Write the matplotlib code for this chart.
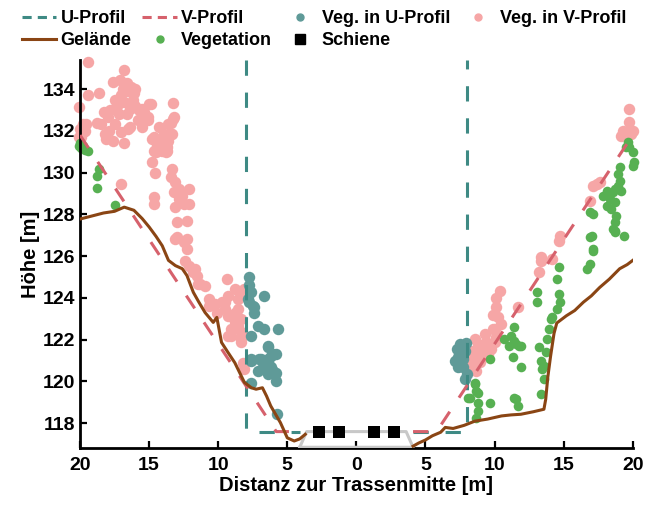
import numpy as np
import matplotlib
matplotlib.use("Agg")
import matplotlib.pyplot as plt
from matplotlib.lines import Line2D

plt.rcParams['font.family'] = ['Liberation Sans', 'DejaVu Sans']
plt.rcParams['font.weight'] = 'bold'
plt.rcParams['font.size'] = 14

# Gelände (Querschnitt)
gel_links_x = [-20, -19, -18.3, -17.5, -16.8, -16.1, -15.5, -15, -14.5, -14.05, -13.6, -13.1,
               -12.6, -12.26, -11.8, -11.4, -10.95, -10.36, -10.1, -9.76, -9.3, -8.8, -8.1,
               -7.6, -7.26, -6.8, -6.5, -6.2, -5.5, -5.0, -4.5, -4.1, -3.7]
gel_links_y = [127.78, 127.95, 128.07, 128.15, 128.35, 128.2, 127.8, 127.4, 126.95, 126.5, 125.8,
               125.55, 125.4, 125.07, 124.27, 123.8, 123.3, 122.83, 123.07, 121.87, 121.4, 120.9,
               119.95, 119.7, 119.63, 119.7, 119.3, 118.83, 118.03, 117.3, 117.15, 117.25, 117.47]
gel_rechts_x = [4.1, 4.5, 5.0, 5.5, 6.1, 6.43, 7.0, 7.8, 8.57, 9.5, 10.5, 11.2, 11.9, 12.8, 13.57,
                13.7, 13.85, 14.05, 14.3, 14.5, 15.2, 15.8, 16.43, 17.0, 17.6, 18.3, 19.05, 19.6, 20.0]
gel_rechts_y = [116.9, 117.05, 117.2, 117.4, 117.57, 117.8, 117.75, 117.9, 118.1, 118.2, 118.35,
                118.4, 118.43, 118.55, 118.67, 119.15, 120.2, 121.2, 122.3, 122.8, 123.15, 123.4,
                123.8, 124.1, 124.5, 124.9, 125.4, 125.6, 125.8]

# Profile
u_x = [-8, -8, -4.1, np.nan, 4.1, 8, 8]
u_y = [135.4, 117.6, 117.6, np.nan, 117.6, 117.6, 135.4]
v_x = [-20, -5.8, -4.1, np.nan, 4.1, 5.8, 20]
v_y = [131.8, 117.6, 117.6, np.nan, 117.6, 117.6, 131.8]

# Schotter und Schienen
schotter_x = [-4.1, -3.6, 3.6, 4.1, -4.1]
schotter_y = [116.85, 117.6, 117.6, 116.85, 116.85]
schiene_x = [-2.72, -1.28, 1.28, 2.72]
schiene_y = [117.58, 117.58, 117.58, 117.58]

# Vegetation im V-Profil
veg_v = [(-19.45, 135.3), (-16.8, 134.93), (-17.6, 134.34), (-17.1, 134.45), (-19.45, 133.7),
         (-18.6, 133.8), (-20.1, 133.17), (-17.5, 133.5), (-17.0, 133.7), (-16.5, 133.9),
         (-16.3, 134.1), (-16.0, 134.0), (-14.9, 133.3), (-13.3, 133.33), (-13.2, 132.66),
         (-13.45, 132.4), (-15.36, 132.9), (-15.7, 133.0), (-15.1, 132.66), (-18.0, 132.66),
         (-18.45, 132.34), (-18.8, 132.4), (-17.5, 132.34), (-17.0, 131.94), (-16.55, 132.1),
         (-18.2, 131.86), (-18.1, 131.62), (-17.6, 131.5), (-16.8, 131.4), (-19.6, 132.34),
         (-19.8, 131.94), (-19.9, 131.7), (-14.64, 131.7), (-14.3, 132.18), (-13.9, 131.86),
         (-13.6, 131.54), (-14.16, 131.3), (-13.7, 131.06), (-13.33, 131.86), (-14.5, 130.98),
         (-14.05, 131.54), (-16.1, 133.8), (-15.5, 133.06), (-15.0, 133.3), (-15.1, 132.5),
         (-16.4, 133.06), (-16.4, 132.2), (-13.3, 132.58), (-13.6, 132.34), (-14.76, 131.62),
         (-14.4, 131.3), (-14.05, 131.62), (-13.7, 131.22), (-13.45, 131.86), (-13.8, 130.98),
         (-14.64, 131.06), (-14.05, 131.06), (-14.76, 130.5), (-14.57, 130.0), (-13.38, 130.18),
         (-13.45, 129.78), (-13.1, 129.54), (-12.86, 129.22), (-13.2, 129.07), (-12.6, 128.9),
         (-12.14, 129.22), (-12.5, 128.5), (-13.1, 128.35), (-12.14, 128.5), (-12.86, 128.74),
         (-14.64, 128.83), (-14.64, 128.5), (-12.98, 127.63), (-12.26, 127.7), (-12.98, 126.9),
         (-12.26, 126.83), (-13.1, 126.83), (-12.5, 126.67), (-12.26, 126.35), (-12.38, 125.78),
         (-12.14, 125.54), (-11.8, 125.23), (-11.55, 125.06), (-11.3, 124.67), (-10.95, 124.58),
         (-9.4, 124.9), (-8.8, 124.43), (-9.3, 124.1), (-8.57, 123.95), (-10.7, 123.95),
         (-10.24, 123.7), (-9.76, 123.79), (-9.52, 123.47), (-10.1, 123.3), (-10.7, 123.63),
         (-9.29, 123.15), (-8.8, 122.83), (-9.05, 122.5), (-8.57, 122.67), (-8.33, 122.99),
         (-9.05, 122.19), (-8.33, 121.87), (-8.8, 123.3), (-8.1, 124.43), (-8.2, 120.9),
         (-8.1, 120.6), (-11.66, 125.39), (-11.43, 124.67), (-9.52, 123.79), (-8.57, 123.47),
         (-9.05, 123.15), (-8.33, 122.35), (-9.29, 122.19), (-8.33, 122.03), (-8.2, 124.27),
         (-17.0, 129.47), (-20.0, 132.1), (-19.64, 132.0), (-20.1, 131.7), (-19.76, 132.34),
         (-17.3, 133.2), (-16.8, 133.4), (-16.2, 133.5), (-16.6, 132.8), (-17.8, 133.0),
         (-17.2, 132.8), (-16.0, 133.2), (-15.8, 132.5), (-17.9, 132.0), (-18.3, 132.9),
         (-15.5, 132.2), (-16.9, 134.0), (-16.6, 134.3),
         (19.76, 133.06), (19.76, 132.42), (19.52, 131.94), (19.29, 132.02), (19.88, 131.86),
         (20.0, 132.02), (19.17, 131.78), (17.38, 129.46), (17.62, 129.54), (17.14, 129.38),
         (16.9, 128.66), (14.64, 126.74), (14.76, 126.98), (13.33, 125.95), (14.17, 125.87),
         (13.33, 125.78), (13.2, 125.23), (10.36, 124.35), (10.12, 123.55), (11.67, 123.55),
         (10.24, 123.07), (10.48, 122.75), (9.88, 122.51), (9.29, 122.27), (9.4, 121.87),
         (8.81, 121.79), (8.57, 122.03), (8.33, 121.23), (8.57, 120.91), (8.21, 120.59),
         (8.69, 120.51), (9.05, 121.07), (9.52, 121.31), (9.76, 121.55), (10.0, 121.87),
         (9.05, 121.63), (10.0, 122.51), (10.12, 122.11), (8.33, 121.47), (8.81, 121.23),
         (8.45, 120.75), (9.29, 121.47), (9.64, 121.79), (8.33, 120.99), (8.93, 120.91),
         (10.12, 124.0), (9.9, 123.2)]

# Vegetation im U-Profil
veg_u = [(-7.74, 124.99), (-7.86, 123.95), (-7.5, 123.63), (-7.38, 123.3), (-6.66, 124.1),
         (-7.14, 122.67), (-6.66, 122.51), (-5.7, 122.51), (-7.62, 121.07), (-7.02, 121.07),
         (-6.43, 121.63), (-6.07, 121.3), (-6.43, 121.07), (-6.79, 120.67), (-6.19, 120.67),
         (-5.84, 120.43), (-6.43, 120.35), (-5.84, 120.03), (-7.62, 119.95), (-5.71, 118.43),
         (-7.74, 123.79), (-7.38, 123.55), (-7.62, 122.19), (-6.43, 121.7), (-6.19, 121.23),
         (-5.84, 121.3), (-6.9, 121.07), (-6.43, 120.91), (-6.07, 120.51), (-7.14, 120.51),
         (-7.62, 120.99), (-7.8, 124.6), (-7.6, 124.3),
         (7.26, 121.55), (7.62, 121.63), (7.86, 121.47), (7.38, 121.15), (7.74, 121.07),
         (7.38, 120.67), (7.74, 120.67), (7.98, 120.35), (7.86, 120.11), (7.14, 120.99),
         (7.5, 121.8), (7.9, 121.85)]

# übrige Vegetation
veg = [(-20.1, 131.26), (-19.9, 131.18), (-19.64, 131.1), (-19.76, 131.26), (-19.4, 131.06),
       (-20.0, 131.4), (-18.6, 130.2), (-18.8, 129.86), (-18.76, 129.26), (-17.5, 128.45),
       (10.71, 122.03), (11.19, 122.19), (11.55, 121.79), (11.9, 121.71), (11.07, 121.71),
       (11.43, 121.95), (11.31, 121.15), (11.9, 120.67), (9.64, 121.07), (8.57, 119.95),
       (8.69, 119.55), (8.21, 119.23), (8.81, 118.99), (9.64, 118.99), (11.43, 119.23),
       (11.67, 118.83), (8.69, 118.27), (13.21, 121.63), (13.33, 120.99), (13.45, 120.59),
       (13.33, 119.39), (13.1, 124.27), (13.1, 123.79), (14.64, 124.19), (14.05, 122.99),
       (13.93, 122.51), (13.81, 122.03), (13.69, 121.39), (13.57, 120.75), (13.57, 120.11),
       (17.02, 126.98), (17.14, 126.35), (16.9, 125.63), (16.67, 125.39), (18.69, 127.22),
       (19.4, 126.98), (14.64, 125.47), (14.52, 124.9), (14.71, 123.79), (14.52, 123.47),
       (14.17, 123.07), (11.43, 122.59), (11.79, 121.71), (11.55, 119.15), (8.57, 119.87),
       (8.81, 119.47), (8.81, 118.59), (8.1, 119.23), (19.76, 131.22), (20.0, 130.98),
       (20.1, 130.5), (20.0, 130.34), (19.52, 131.22), (19.64, 131.46), (19.05, 130.26),
       (18.93, 129.94), (19.05, 129.62), (18.93, 129.38), (18.69, 129.22), (19.17, 129.14),
       (18.57, 129.06), (18.1, 129.14), (18.33, 128.74), (18.69, 128.58), (18.45, 128.26),
       (18.81, 127.94), (18.69, 127.63), (18.57, 127.31), (18.69, 127.15), (17.86, 128.9),
       (18.1, 128.42), (16.9, 128.1), (17.14, 128.02), (16.9, 126.9), (17.14, 126.27)]

x_ticks = [-20, -15, -10, -5, 0, 5, 10, 15, 20]
x_labels = ['20', '15', '10', '5', '0', '5', '10', '15', '20']
y_ticks = [118, 120, 122, 124, 126, 128, 130, 132, 134]

c_u = '#3e8a84'
c_v = '#d6616c'
c_veg_u = '#5f9a98'
c_veg_v = '#f6a6a6'
c_veg = '#57b052'
c_gel = '#8a4514'

fig = plt.figure(figsize=(6.48, 5.11), dpi=100)
ax = fig.add_axes([0.1235, 0.1227, 0.853, 0.76])

vv = np.array(veg_v)
vu = np.array(veg_u)
vg = np.array(veg)
ax.scatter(vv[:, 0], vv[:, 1], s=68, color=c_veg_v, linewidths=0, zorder=2, clip_on=False)
ax.scatter(vu[:, 0], vu[:, 1], s=68, color=c_veg_u, linewidths=0, zorder=2, clip_on=False)
ax.scatter(vg[:, 0], vg[:, 1], s=48, color=c_veg, linewidths=0, zorder=2, clip_on=False)

ax.plot(schotter_x, schotter_y, color='#c8c8c8', lw=2.2, zorder=3)
ax.plot(u_x, u_y, color=c_u, lw=2.2, dashes=(5, 5.5), zorder=4)
ax.plot(v_x, v_y, color=c_v, lw=2.2, dashes=(5, 5.5), zorder=4)
ax.plot(gel_links_x, gel_links_y, color=c_gel, lw=2.2, zorder=5)
ax.plot(gel_rechts_x, gel_rechts_y, color=c_gel, lw=2.2, zorder=5)
ax.scatter(schiene_x, schiene_y, s=75, marker='s', color='black', linewidths=0, zorder=6)

ax.set_xlim(-20, 20)
ax.set_ylim(116.8, 135.4)
ax.set_xticks(x_ticks)
ax.set_xticklabels(x_labels)
ax.set_yticks(y_ticks)
ax.spines['top'].set_visible(False)
ax.spines['right'].set_visible(False)
ax.spines['left'].set_linewidth(2)
ax.spines['bottom'].set_linewidth(2)
ax.tick_params(direction='in', length=5, width=1.6, labelsize=14)
ax.tick_params(axis='x', pad=6)
ax.set_xlabel('Distanz zur Trassenmitte [m]', fontsize=14.5, fontweight='bold', labelpad=2)
ax.set_ylabel('Höhe [m]', fontsize=14.5, fontweight='bold', labelpad=2)

handles = [
    Line2D([], [], color=c_u, lw=2.2, dashes=(3, 2)),
    Line2D([], [], color=c_gel, lw=2.2),
    Line2D([], [], color=c_v, lw=2.2, dashes=(3, 2)),
    Line2D([], [], color=c_veg, marker='o', ms=5, lw=0),
    Line2D([], [], color=c_veg_u, marker='o', ms=5, lw=0),
    Line2D([], [], color='black', marker='s', ms=7, lw=0),
    Line2D([], [], color=c_veg_v, marker='o', ms=5, lw=0),
]
labels = ['U-Profil', 'Gelände', 'V-Profil', 'Vegetation', 'Veg. in U-Profil', 'Schiene',
          'Veg. in V-Profil']
fig.legend(handles, labels, loc='upper center', bbox_to_anchor=(0.5, 0.998), ncol=4, frameon=False,
           prop={'weight': 'bold', 'size': 13}, handlelength=1.9, handletextpad=0.25,
           columnspacing=0.6, labelspacing=0.3, borderaxespad=0.2, borderpad=0.3)

fig.savefig('out.png', dpi=100)
